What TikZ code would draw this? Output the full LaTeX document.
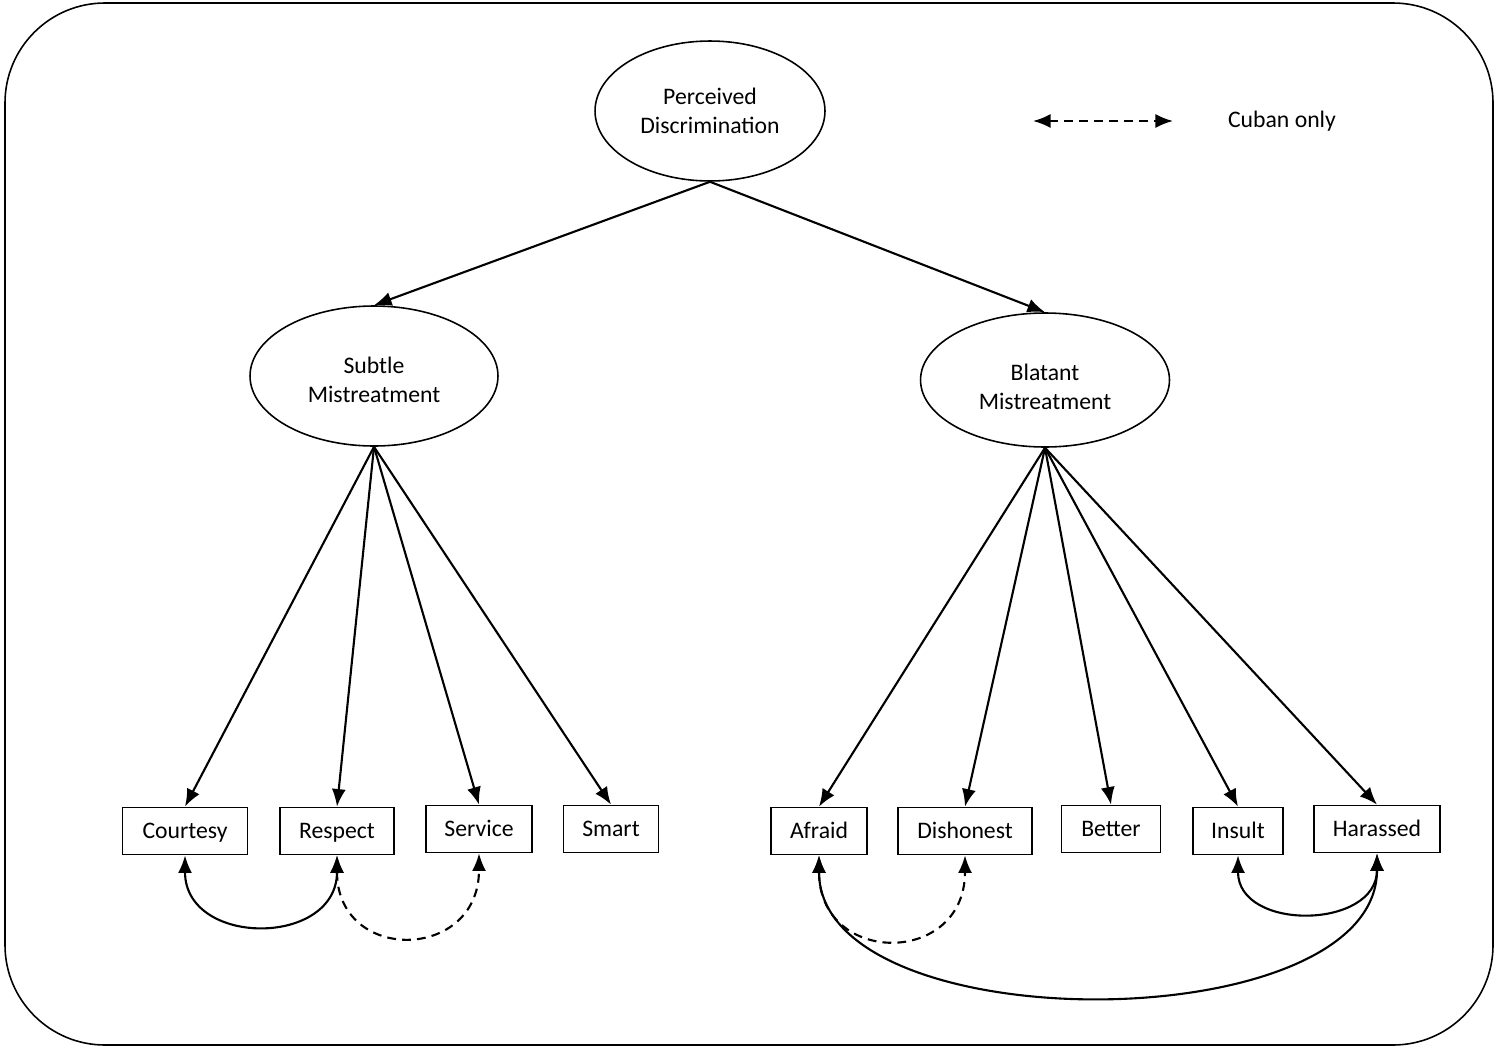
\documentclass[tikz,border=0pt]{standalone}
\usepackage{fontspec}
\setmainfont{Carlito}
\usepackage{xcolor}
\usetikzlibrary{shapes.geometric,arrows.meta}

\begin{document}
\begin{tikzpicture}[x=0.02cm,y=-0.02cm,
    latent/.style={draw,ellipse,line width=0.9pt,inner sep=0pt,align=center,minimum height=2.8cm},
    item/.style={draw,line width=1pt,inner sep=0pt,minimum height=0.94cm,text height=8.7pt,text depth=0pt},
    load/.style={line width=1.2pt,-{Latex[length=10pt,width=8pt]}},
    cov/.style={line width=1.2pt,{Latex[length=10pt,width=8pt]}-{Latex[length=10pt,width=8pt]}},
    cuban/.style={cov,dash pattern=on 5pt off 3.5pt},
    every node/.style={font=\fontsize{13.5}{16.5}\selectfont}]
    \useasboundingbox (0,0) rectangle (1500,1055);

    % Frame
    \draw[line width=0.9pt,rounded corners=2cm] (5,3) rectangle (1493,1045);

    % Factors
    \node[latent,minimum width=4.6cm] (perc) at (710,111) {Perceived\\Discrimination};
    \node[latent,minimum width=4.96cm,text height=30.5pt] (subtle) at (374,376) {Subtle\\Mistreatment};
    \node[latent,minimum width=4.98cm,minimum height=2.68cm,text height=34pt] (blatant) at (1045,380) {Blatant\\Mistreatment};

    % Items
    \node[item,minimum width=2.5cm] (courtesy) at (185,831) {Courtesy};
    \node[item,minimum width=2.28cm] (respect) at (337,831) {Respect};
    \node[item,minimum width=2.12cm] (service) at (479,829) {Service};
    \node[item,minimum width=1.9cm] (smart) at (611,829) {Smart};
    \node[item,minimum width=1.92cm] (afraid) at (819,831) {Afraid};
    \node[item,minimum width=2.68cm] (dishonest) at (965,831) {Dishonest};
    \node[item,minimum width=1.98cm] (better) at (1111,829) {Better};
    \node[item,minimum width=1.8cm] (insult) at (1238,831) {Insult};
    \node[item,minimum width=2.52cm] (harassed) at (1377,829) {Harassed};

    % Loadings
    \draw[load] (perc.south) -- (subtle.north);
    \draw[load] (perc.south) -- (blatant.north);
    \foreach \i in {courtesy,respect,service,smart}
        \draw[load] (subtle.south) -- (\i.north);
    \foreach \i in {afraid,dishonest,better,insult,harassed}
        \draw[load] (blatant.south) -- (\i.north);

    % Correlated errors
    \draw[cov] (courtesy.south) to[out=-90,in=-90,looseness=1.55] (respect.south);
    \draw[cuban] (respect.south) to[out=-90,in=-90,looseness=1.95] (service.south);
    \draw[cuban] (afraid.south) to[out=-90,in=-90,looseness=1.95] (dishonest.south);
    \draw[cov] (insult.south) to[out=-90,in=-90,looseness=1.4] (harassed.south);
    \draw[cov] (afraid.south) to[out=-90,in=-90,looseness=0.86] (harassed.south);

    % Legend
    \coordinate (legl) at (1033,121);
    \coordinate (legr) at (1173,121);
    \draw[cuban] (legl) -- (legr);
    \node (legtext) at (1282,121) {Cuban only};
\end{tikzpicture}
\end{document}
